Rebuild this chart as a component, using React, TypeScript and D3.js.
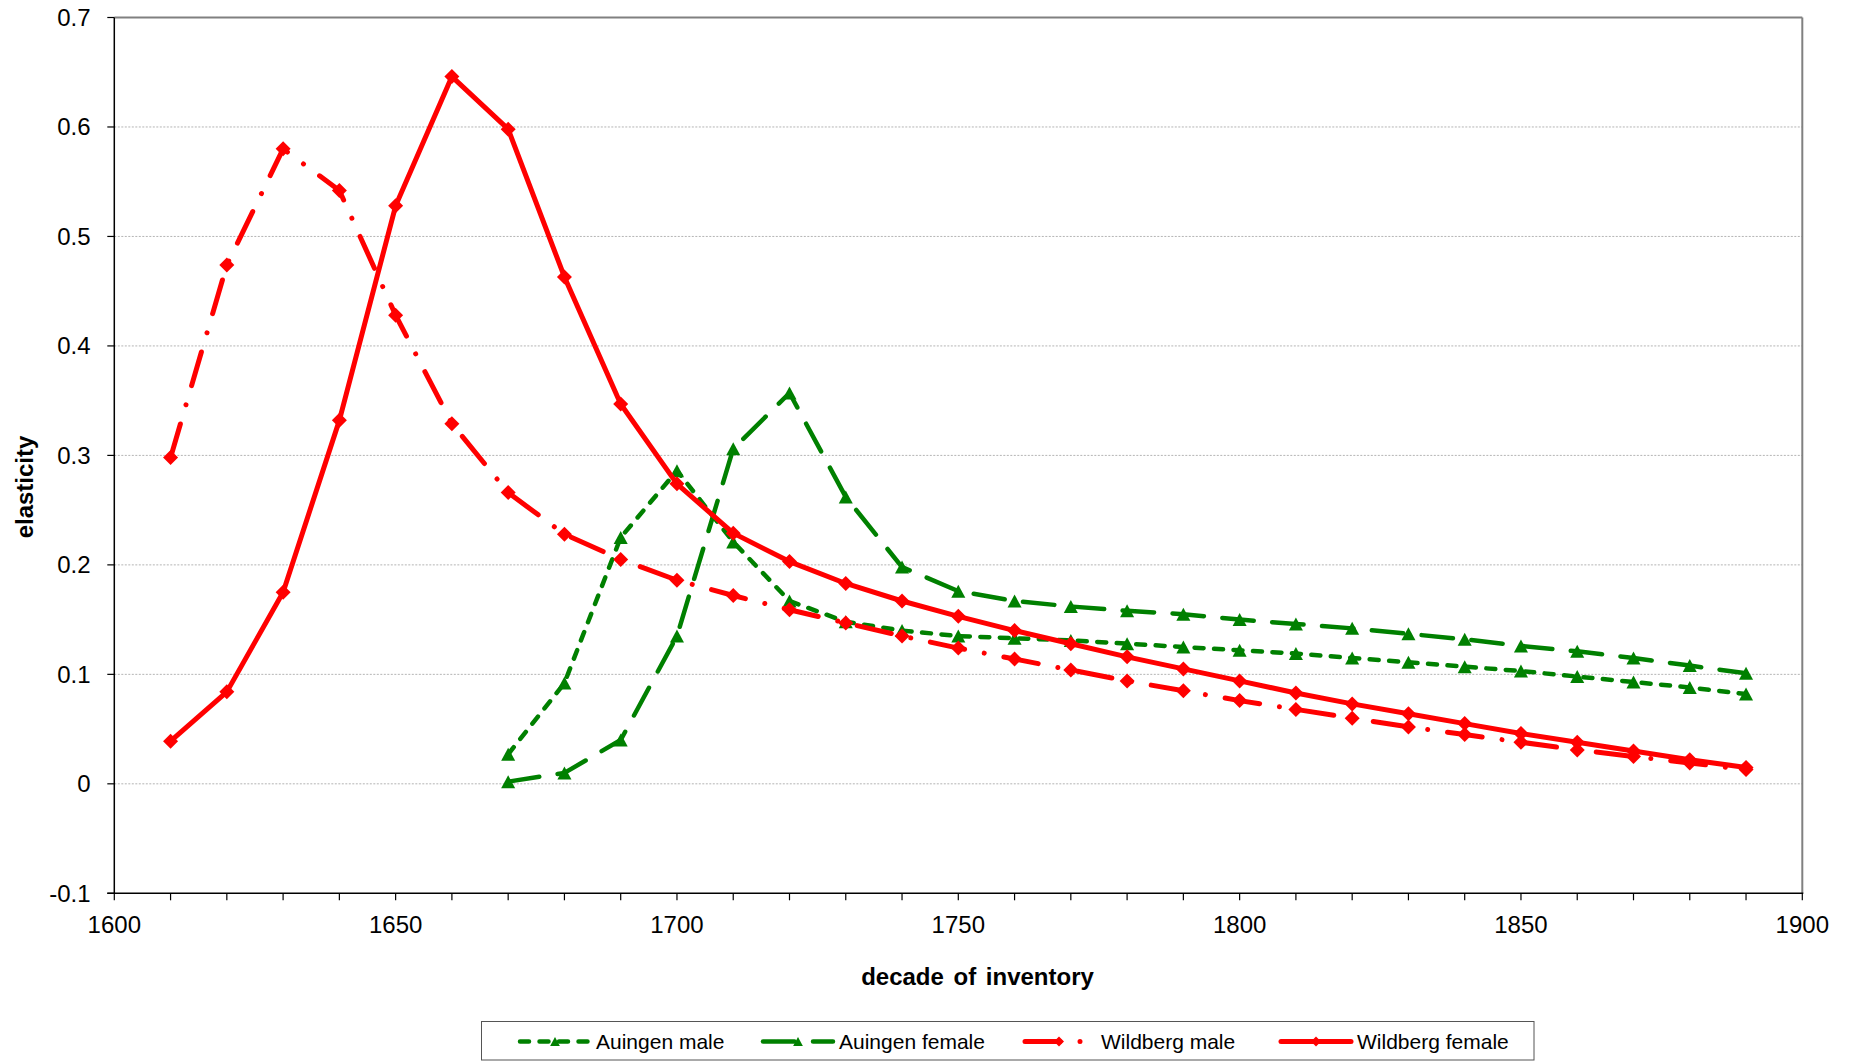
import React from "react";
import * as d3 from "d3";

const wildbergDecades = [1610, 1620, 1630, 1640, 1650, 1660, 1670, 1680, 1690, 1700, 1710, 1720, 1730, 1740, 1750, 1760, 1770, 1780, 1790, 1800, 1810, 1820, 1830, 1840, 1850, 1860, 1870, 1880, 1890];
const auingenDecades = [1670, 1680, 1690, 1700, 1710, 1720, 1730, 1740, 1750, 1760, 1770, 1780, 1790, 1800, 1810, 1820, 1830, 1840, 1850, 1860, 1870, 1880, 1890];

const auingenMale = [0.027, 0.092, 0.225, 0.286, 0.221, 0.167, 0.148, 0.140, 0.135, 0.133, 0.131, 0.128, 0.125, 0.122, 0.119, 0.115, 0.111, 0.107, 0.103, 0.098, 0.093, 0.088, 0.082];
const auingenFemale = [0.002, 0.010, 0.040, 0.135, 0.306, 0.357, 0.262, 0.198, 0.176, 0.167, 0.162, 0.158, 0.155, 0.150, 0.146, 0.142, 0.137, 0.132, 0.126, 0.121, 0.115, 0.108, 0.101];
const wildbergMale = [0.298, 0.474, 0.580, 0.542, 0.428, 0.329, 0.266, 0.228, 0.205, 0.186, 0.172, 0.159, 0.147, 0.135, 0.124, 0.114, 0.104, 0.094, 0.085, 0.076, 0.068, 0.060, 0.052, 0.045, 0.038, 0.031, 0.025, 0.019, 0.013];
const wildbergFemale = [0.039, 0.084, 0.175, 0.332, 0.528, 0.646, 0.598, 0.463, 0.347, 0.274, 0.229, 0.203, 0.183, 0.167, 0.153, 0.140, 0.128, 0.116, 0.105, 0.094, 0.083, 0.073, 0.064, 0.055, 0.046, 0.038, 0.030, 0.022, 0.015];

const yTicks = [-0.1, 0, 0.1, 0.2, 0.3, 0.4, 0.5, 0.6, 0.7];
const xLabelTicks = [1600, 1650, 1700, 1750, 1800, 1850, 1900];
const xMinorTicks = [1600, 1610, 1620, 1630, 1640, 1650, 1660, 1670, 1680, 1690, 1700, 1710, 1720, 1730, 1740, 1750, 1760, 1770, 1780, 1790, 1800, 1810, 1820, 1830, 1840, 1850, 1860, 1870, 1880, 1890, 1900];

const seriesNames = ["Auingen male", "Auingen female", "Wildberg male", "Wildberg female"];

const W = 1863;
const H = 1061;
const L = 114.3, R = 1802.3, T = 17.5, B = 893.3;

const GREEN = "#008000";
const RED = "#FF0000";

const diamond = (r: number) => `M0,${-r}L${r},0L0,${r}L${-r},0Z`;
const triangle = (s: number) => `M0,${-s}L${s * 1.08},${s}L${-s * 1.08},${s}Z`;

export default function App() {
  const x = d3.scaleLinear().domain([1600, 1900]).range([L, R]);
  const y = d3.scaleLinear().domain([-0.1, 0.7]).range([B, T]);
  const line = d3.line<[number, number]>().x(d => x(d[0])).y(d => y(d[1]));

  const series = [
    { name: seriesNames[0], xs: auingenDecades, ys: auingenMale, color: GREEN, width: 4.5, dash: "9 10.5", marker: triangle(6.5), legendMarker: triangle(4.5) },
    { name: seriesNames[1], xs: auingenDecades, ys: auingenFemale, color: GREEN, width: 4.5, dash: "31.5 18.5", marker: triangle(6.5), legendMarker: triangle(4.5) },
    { name: seriesNames[2], xs: wildbergDecades, ys: wildbergMale, color: RED, width: 5, dash: "35 20 0.01 20", marker: diamond(7.5), legendMarker: diamond(5) },
    { name: seriesNames[3], xs: wildbergDecades, ys: wildbergFemale, color: RED, width: 5, dash: "", marker: diamond(7.5), legendMarker: diamond(5) },
  ];

  const legendItems = [
    { sx: 520, ex: 590, tx: 596 },
    { sx: 763, ex: 833, tx: 839 },
    { sx: 1025, ex: 1093, tx: 1101 },
    { sx: 1281, ex: 1351, tx: 1357 },
  ];

  const font = "'Liberation Sans', Arial, sans-serif";

  return (
    <svg width={W} height={H} style={{ position: "absolute", left: 0, top: 0, background: "#fff" }} fontFamily={font}>
      <rect x={0} y={0} width={W} height={H} fill="#fff" />
      {yTicks.filter(t => t > -0.1 && t < 0.7).map(t => (
        <line key={"g" + t} x1={L} x2={R} y1={y(t)} y2={y(t)} stroke="#b4b4b4" strokeWidth={1} strokeDasharray="2 1.5" />
      ))}
      <line x1={L} x2={R} y1={T} y2={T} stroke="#808080" strokeWidth={2} />
      <line x1={R} x2={R} y1={T} y2={B} stroke="#808080" strokeWidth={2} />
      <line x1={L} x2={L} y1={T} y2={B} stroke="#000" strokeWidth={1.5} />
      <line x1={L - 7} x2={R + 1} y1={B} y2={B} stroke="#000" strokeWidth={1.5} />
      {yTicks.map(t => (
        <g key={"yt" + t}>
          <line x1={L - 7} x2={L} y1={y(t)} y2={y(t)} stroke="#000" strokeWidth={1.2} />
          <text x={90.5} y={y(t) + 8.5} textAnchor="end" fontSize={24} fill="#000">{t === 0 ? "0" : String(t)}</text>
        </g>
      ))}
      {xMinorTicks.map(t => (
        <line key={"xt" + t} x1={x(t)} x2={x(t)} y1={B} y2={B + 7} stroke="#000" strokeWidth={1.2} />
      ))}
      {xLabelTicks.map(t => (
        <text key={"xl" + t} x={x(t)} y={B + 40} textAnchor="middle" fontSize={24} fill="#000">{t}</text>
      ))}
      <text x={977.5} y={985} textAnchor="middle" fontSize={24} fontWeight="bold" wordSpacing={3} fill="#000">decade of inventory</text>
      <text transform="translate(33,487) rotate(-90)" textAnchor="middle" fontSize={24} fontWeight="bold" fill="#000">elasticity</text>
      {series.map(s => {
        const pts: [number, number][] = s.xs.map((d, i) => [d, s.ys[i]]);
        return (
          <g key={s.name}>
            <path d={line(pts) || ""} fill="none" stroke={s.color} strokeWidth={s.width} strokeDasharray={s.dash || undefined} strokeLinecap="round" strokeLinejoin="round" />
            {pts.map((p, i) => (
              <path key={i} d={s.marker} transform={`translate(${x(p[0])},${y(p[1])})`} fill={s.color} />
            ))}
          </g>
        );
      })}
      <rect x={481.5} y={1021.5} width={1052.5} height={38.5} fill="#fff" stroke="#555" strokeWidth={1} />
      {series.map((s, i) => {
        const it = legendItems[i];
        const ly = 1041.5;
        return (
          <g key={"lg" + s.name}>
            <line x1={it.sx} x2={it.ex} y1={ly} y2={ly} stroke={s.color} strokeWidth={s.width} strokeDasharray={s.dash || undefined} strokeLinecap="round" />
            <path d={s.legendMarker} transform={`translate(${(it.sx + it.ex) / 2},${ly})`} fill={s.color} />
            <text x={it.tx} y={1049} fontSize={21} fill="#000">{s.name}</text>
          </g>
        );
      })}
    </svg>
  );
}
